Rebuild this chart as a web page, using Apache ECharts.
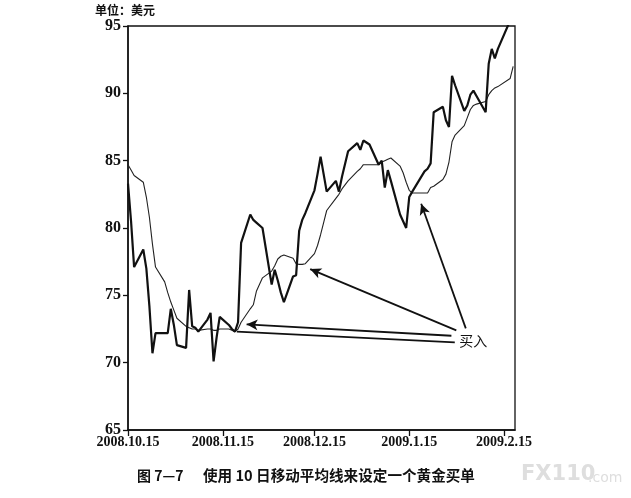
<!DOCTYPE html>
<html><head><meta charset="utf-8">
<script src="https://cdn.jsdelivr.net/npm/echarts@6/dist/echarts.min.js"></script>
<style>html,body{margin:0;padding:0;background:#fff}#c{width:631px;height:498px}</style>
</head><body><div id="c"></div>
<script>
// x = calendar days after 2008-10-15 (trading days)
const tradingDays = [
  0,1,2,5,6,7,8,9,12,13,14,15,16,
  19,20,21,22,23,26,27,28,29,30,33,34,35,36,37,40,41,42,44,
  47,48,49,50,51,54,55,56,57,58,61,62,63,64,65,68,69,70,72,75,76,77,
  79,82,83,84,85,86,89,90,91,92,93,97,98,99,100,103,104,105,106,107,
  110,111,112,113,114,117,118,119,120,121,125,126
];
const price = [
  83.3,80.5,77.1,78.4,77.0,74.2,70.7,72.2,72.2,72.2,74.0,72.8,71.3,
  71.1,75.4,72.7,72.6,72.3,73.2,73.7,70.1,71.9,73.4,72.8,72.5,72.3,73.0,78.9,81.0,80.6,80.4,80.0,
  75.8,76.9,76.1,75.2,74.5,76.4,76.5,79.8,80.6,81.1,82.8,84.0,85.3,84.0,82.7,83.5,82.7,83.8,85.7,86.3,85.8,86.5,
  86.2,84.7,85.0,83.0,84.3,83.5,81.0,80.5,80.0,82.3,82.7,84.2,84.4,84.8,88.6,89.0,88.0,87.5,91.3,90.6,
  88.7,89.1,89.9,90.2,89.8,88.6,92.2,93.3,92.6,93.3,95.4,96.0
];
const ma10 = [
  84.7,84.3,83.9,83.4,82.3,80.8,78.8,77.1,76.0,75.2,74.5,73.9,73.3,
  72.7,72.6,72.5,72.5,72.4,72.5,72.5,72.4,72.4,72.5,72.5,72.4,72.3,72.5,73.0,74.0,74.3,75.3,76.3,
  76.8,77.2,77.7,77.9,78.0,77.75,77.35,77.3,77.3,77.35,78.1,78.7,79.5,80.4,81.3,82.2,82.5,82.9,83.5,84.2,84.4,84.7,
  84.7,84.7,84.9,85.0,85.1,85.2,84.6,84.1,83.4,82.8,82.6,82.6,82.6,83.0,83.1,83.6,84.0,84.9,86.4,86.9,
  87.6,88.2,88.8,89.1,89.2,89.4,89.9,90.2,90.4,90.5,91.1,92.0
];
const xTickDays = [0, 31, 61, 92, 123];
const xTickLabels = ['2008.10.15', '2008.11.15', '2008.12.15', '2009.1.15', '2009.2.15'];
const yTicks = [65, 70, 75, 80, 85, 90, 95];
// annotation arrows: [from, to, arrowhead]
const buyArrows = [
  [[105.8, 72.0], [38.8, 72.85], true],
  [[106.9, 71.5], [35.6, 72.3], false],
  [[107.4, 72.4], [59.6, 76.95], true],
  [[110.5, 72.55], [95.9, 81.8], true]
];
const buyLabel = '买入';
const buyLabelAt = [108.4, 71.6];
const unitText = '单位：美元';
const captionFig = '图 7—7';
const captionText = '使用 10 日移动平均线来设定一个黄金买单';

const pricePts = tradingDays.map((d, i) => [d, price[i]]);
const maPts = tradingDays.map((d, i) => [d, ma10[i]]);
const serif = "'Liberation Serif', 'DejaVu Serif', serif";
const cjk = "'Noto Sans CJK SC', sans-serif";

const chart = echarts.init(document.getElementById('c'));
chart.setOption({
  animation: false,
  backgroundColor: '#fff',
  grid: { left: 128, right: 116, top: 26, bottom: 68, show: true, borderColor: '#111', borderWidth: 1.3 },
  xAxis: {
    type: 'value', min: 0, max: 126.6,
    splitLine: { show: false },
    axisLine: { show: true, lineStyle: { color: '#111', width: 1.5 } },
    axisTick: { show: true, customValues: xTickDays, length: 6, lineStyle: { color: '#111', width: 1.3 } },
    axisLabel: {
      customValues: xTickDays, margin: 5, color: '#111',
      fontFamily: serif, fontWeight: 'bold', fontSize: 14,
      formatter: v => xTickLabels[xTickDays.indexOf(v)] || ''
    }
  },
  yAxis: {
    type: 'value', min: 65, max: 95, interval: 5,
    splitLine: { show: false },
    axisLine: { show: true, lineStyle: { color: '#111', width: 1.5 } },
    axisTick: { show: true, length: 5, lineStyle: { color: '#111', width: 1.3 } },
    axisLabel: {
      margin: 7, color: '#111', fontFamily: serif, fontWeight: 'bold', fontSize: 16,
      formatter: v => yTicks.includes(v) ? String(v) : ''
    }
  },
  series: [
    {
      type: 'line', data: maPts, showSymbol: false, symbol: 'none', clip: true,
      lineStyle: { color: '#222', width: 1.1 }, silent: true, z: 2
    },
    {
      type: 'line', data: pricePts, showSymbol: false, symbol: 'none', clip: true,
      lineStyle: { color: '#111', width: 2.2 }, silent: true, z: 3,
      markLine: {
        silent: true, animation: false,
        label: { show: false },
        lineStyle: { color: '#111', width: 1.8, type: 'solid' },
        symbolSize: [8, 11],
        data: buyArrows.map(a => [
          { coord: a[0], symbol: 'none' },
          { coord: a[1], symbol: a[2] ? 'arrow' : 'none' }
        ])
      },
      markPoint: {
        silent: true, symbol: 'circle', symbolSize: 0,
        data: [{ coord: buyLabelAt, value: buyLabel }],
        label: {
          show: true, position: 'right', distance: 0, formatter: buyLabel,
          color: '#111', fontFamily: cjk, fontSize: 14
        }
      }
    }
  ],
  graphic: [
    { type: 'text', left: 95, top: 4, style: { text: unitText, fill: '#111', font: "bold 12px 'Noto Sans CJK SC', sans-serif" } },
    { type: 'text', left: 137, top: 469, style: { text: captionFig, fill: '#111', font: "bold 14px 'Noto Sans CJK SC', sans-serif" } },
    { type: 'text', left: 203, top: 468, style: { text: captionText, fill: '#111', font: "bold 14.6px 'Noto Sans CJK SC', sans-serif" } },
    { type: 'text', left: 521, top: 464, style: { text: 'FX110', fill: '#dedede', font: "bold 21px 'DejaVu Sans', sans-serif" } },
    { type: 'text', left: 588, top: 471, style: { text: '.com', fill: '#dedede', font: "14px 'DejaVu Sans', sans-serif" } }
  ]
});
</script></body></html>
